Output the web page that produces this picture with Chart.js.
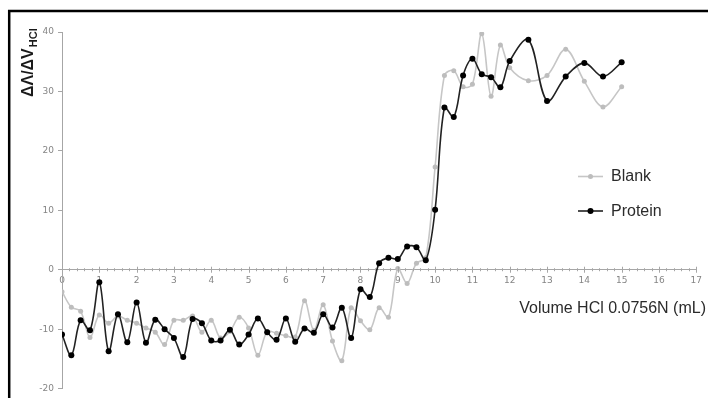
<!DOCTYPE html>
<html>
<head>
<meta charset="utf-8">
<script src="https://cdn.jsdelivr.net/npm/chart.js@4.4.1/dist/chart.umd.min.js"></script>
<style>
  html, body { margin: 0; padding: 0; background: #fff; }
  canvas { display: block; }
</style>
</head>
<body>
<canvas id="c" width="708" height="398"></canvas>
<script>
// Titrant volume (mL) for each reading
const volumes = [
  0, 0.25, 0.5, 0.75, 1, 1.25, 1.5, 1.75, 2, 2.25, 2.5, 2.75,
  3, 3.25, 3.5, 3.75, 4, 4.25, 4.5, 4.75, 5, 5.25, 5.5, 5.75,
  6, 6.25, 6.5, 6.75, 7, 7.25, 7.5, 7.75, 8, 8.25, 8.5, 8.75,
  9, 9.25, 9.5, 9.75, 10, 10.25, 10.5, 10.75, 11, 11.25, 11.5, 11.75,
  12, 12.5, 13, 13.5, 14, 14.5, 15
];

// dΛ/dV for the blank run
const blankValues = [
  -3.7, -6.3, -7.0, -11.4, -7.6, -9.0, -7.8, -8.5, -9.0, -9.8, -10.5, -12.6,
  -8.5, -8.5, -7.8, -10.5, -8.5, -11.5, -10.4, -8.0, -9.8, -14.4, -10.4, -10.7,
  -11.1, -11.3, -5.2, -10.2, -5.9, -12.0, -15.3, -6.4, -8.6, -10.1, -6.4, -8.0,
  0.2, -2.3, 1.1, 2.0, 17.3, 32.7, 33.5, 30.8, 31.2, 39.7, 29.2, 37.8,
  34.0, 31.8, 32.7, 37.1, 31.7, 27.4, 30.8
];

// dΛ/dV for the protein run
const proteinValues = [
  -10.9, -14.4, -8.5, -10.2, -2.1, -13.7, -7.5, -12.2, -5.5, -12.3, -8.4, -10.0,
  -11.5, -14.7, -8.3, -9.0, -11.9, -11.9, -10.1, -12.6, -10.9, -8.2, -10.5, -11.8,
  -8.2, -12.1, -9.9, -10.6, -7.5, -9.7, -6.4, -11.5, -3.3, -4.6, 1.1, 2.0,
  1.8, 3.9, 3.8, 1.6, 10.1, 27.3, 25.7, 32.7, 35.5, 32.9, 32.4, 30.7,
  35.1, 38.7, 28.4, 32.5, 34.8, 32.5, 34.9
];

const xTicks = [0, 1, 2, 3, 4, 5, 6, 7, 8, 9, 10, 11, 12, 13, 14, 15, 16, 17];
const yTicks = [-20, -10, 0, 10, 20, 30, 40];

const seriesNames = ['Blank', 'Protein'];
const xTitle = 'Volume HCl 0.0756N (mL)';

const AXIS_GREY = '#a6a6a6';
const TICK_TEXT = '#858585';

const toPoints = vals => volumes.map((v, i) => ({ x: v, y: vals[i] }));

// Frame, axis titles, legend and the cross ticks on the zero line
const decor = {
  id: 'decor',
  afterDraw(chart) {
    const ctx = chart.ctx;
    const xs = chart.scales.x, ys = chart.scales.y;
    ctx.save();

    // outer frame (top and left edges)
    ctx.strokeStyle = '#000';
    ctx.lineWidth = 2.5;
    ctx.beginPath();
    ctx.moveTo(708, 11);
    ctx.lineTo(9.2, 11);
    ctx.lineTo(9.2, 398);
    ctx.stroke();

    // tick marks across the horizontal axis
    const y0 = ys.getPixelForValue(0);
    ctx.strokeStyle = AXIS_GREY;
    ctx.lineWidth = 1;
    for (let v = 0; v <= 17.0001; v += 0.2) {
      const px = Math.round(xs.getPixelForValue(v)) + 0.5;
      const major = Math.abs(v - Math.round(v)) < 1e-6;
      const h = major ? 3 : 1.5;
      ctx.beginPath();
      ctx.moveTo(px, y0 - h);
      ctx.lineTo(px, y0 + h);
      ctx.stroke();
    }

    // x title
    ctx.fillStyle = '#2b2b2b';
    ctx.font = '16px "Liberation Sans", Arial, sans-serif';
    ctx.textAlign = 'right';
    ctx.textBaseline = 'middle';
    ctx.fillText(xTitle, 706, 309);

    // y title: ΔΛ/ΔV with subscript HCl, rotated
    ctx.save();
    ctx.translate(33, 97);
    ctx.rotate(-Math.PI / 2);
    ctx.textAlign = 'left';
    ctx.textBaseline = 'alphabetic';
    ctx.font = 'bold 16px "Liberation Sans", Arial, sans-serif';
    ctx.fillStyle = '#1a1a1a';
    const main = 'ΔΛ/ΔV';
    ctx.fillText(main, 0, 0);
    const w = ctx.measureText(main).width;
    ctx.font = 'bold 11px "Liberation Sans", Arial, sans-serif';
    ctx.fillText('HCl', w + 1, 4);
    ctx.restore();

    // legend
    const items = [
      { ds: chart.data.datasets.find(d => d.label === seriesNames[0]), y: 176.5 },
      { ds: chart.data.datasets.find(d => d.label === seriesNames[1]), y: 211 }
    ];
    ctx.font = '16px "Liberation Sans", Arial, sans-serif';
    ctx.textAlign = 'left';
    ctx.textBaseline = 'middle';
    items.forEach(it => {
      ctx.strokeStyle = it.ds.borderColor;
      ctx.lineWidth = it.ds.borderWidth;
      ctx.beginPath();
      ctx.moveTo(578, it.y);
      ctx.lineTo(603, it.y);
      ctx.stroke();
      ctx.fillStyle = it.ds.pointBackgroundColor;
      ctx.beginPath();
      ctx.arc(590.5, it.y, it.ds.pointRadius, 0, Math.PI * 2);
      ctx.fill();
      ctx.fillStyle = '#2b2b2b';
      ctx.fillText(it.ds.label, 611, it.y + 0.5);
    });

    ctx.restore();
  }
};

new Chart(document.getElementById('c'), {
  type: 'line',
  data: {
    datasets: [
      {
        label: seriesNames[1],
        data: toPoints(proteinValues),
        borderColor: '#222222',
        borderWidth: 1.6,
        pointBackgroundColor: '#000000',
        pointBorderWidth: 0,
        pointRadius: 3,
        tension: 0.35,
        order: 1
      },
      {
        label: seriesNames[0],
        data: toPoints(blankValues),
        borderColor: '#c6c6c6',
        borderWidth: 1.6,
        pointBackgroundColor: '#bdbdbd',
        pointBorderWidth: 0,
        pointRadius: 2.5,
        tension: 0.35,
        order: 2
      }
    ]
  },
  options: {
    responsive: false,
    animation: false,
    devicePixelRatio: 1,
    layout: { padding: { left: 0, top: 32, right: 9, bottom: 8 } },
    plugins: { legend: { display: false }, tooltip: { enabled: false } },
    scales: {
      x: {
        type: 'linear',
        min: 0,
        max: 17,
        position: { y: 0 },
        afterBuildTicks: s => { s.ticks = xTicks.map(v => ({ value: v })); },
        grid: { display: false, drawTicks: false },
        border: { display: true, color: AXIS_GREY, width: 1 },
        ticks: {
          color: TICK_TEXT,
          font: { size: 9, family: '"DejaVu Sans", sans-serif' },
          padding: 6,
          maxRotation: 0,
          autoSkip: false
        }
      },
      y: {
        min: -20,
        max: 40,
        afterBuildTicks: s => { s.ticks = yTicks.map(v => ({ value: v })); },
        afterFit: s => { s.width = 62; },
        grid: { drawOnChartArea: false, drawTicks: true, tickLength: 4, color: AXIS_GREY },
        border: { display: true, color: AXIS_GREY, width: 1 },
        ticks: {
          color: TICK_TEXT,
          font: { size: 9, family: '"DejaVu Sans", sans-serif' },
          padding: 4
        }
      }
    }
  },
  plugins: [decor]
});
</script>
</body>
</html>
